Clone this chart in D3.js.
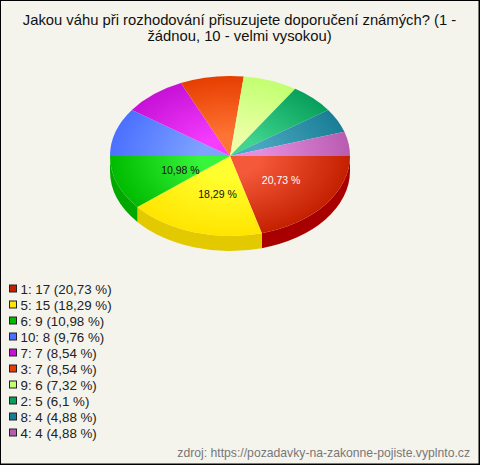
<!DOCTYPE html>
<html><head><meta charset="utf-8">
<script src="https://cdn.jsdelivr.net/npm/d3@7"></script>
<style>html,body{margin:0;padding:0;background:#f5f4ec}svg{display:block}</style>
</head><body><svg id="c" width="480" height="465"></svg>
<script>
const titleLines = ["Jakou váhu při rozhodování přisuzujete doporučení známých? (1 -", "žádnou, 10 - velmi vysokou)"];
const categories = ["1","5","6","10","7","3","9","2","8","4"];
const values = [17,15,9,8,7,7,6,5,4,4];
const percents = ["20,73","18,29","10,98","9,76","8,54","8,54","7,32","6,1","4,88","4,88"];
const baseColors = ["#c42000","#ffe500","#00bb00","#4a70ff","#c611d6","#e63e00","#c2ff70","#079f5b","#1a7d96","#b85cb0"];
const lightColors = ["#f4593a","#ffff30","#36f53a","#7fa2ff","#f53cff","#ff7434","#ecffa8","#3fd58f","#4aa8c0","#e58ee0"];
const sideColors = ["#a80000","#e2c900","#00a800"];
const footer = "zdroj: https://pozadavky-na-zakonne-pojiste.vyplnto.cz";

const W=480,H=465,cx=230,cy=156,R=120,ratio=2/3,depth=15;
const svg=d3.select("#c");
const font="'Liberation Sans',Arial,sans-serif";
svg.append("rect").attr("x",.5).attr("y",.5).attr("width",W-1.5).attr("height",H-1.5).attr("fill","#f5f4ec").attr("stroke","#000");
svg.append("line").attr("x1",W-.5).attr("x2",W-.5).attr("y1",0).attr("y2",H).attr("stroke","#000");
svg.append("line").attr("x1",0).attr("x2",W).attr("y1",H-.5).attr("y2",H-.5).attr("stroke","#000");

svg.append("g").selectAll("text").data(titleLines).join("text")
  .attr("x",W/2-.5).attr("y",(d,i)=>25+i*15.5).attr("text-anchor","middle")
  .attr("font-family",font).attr("font-size",14.8).attr("fill","#111").text(d=>d);

const pie=d3.pie().sort(null).startAngle(Math.PI/2).endAngle(Math.PI*2.5)(values);
const arc=d3.arc().innerRadius(0).outerRadius(R);
const defs=svg.append("defs");
pie.forEach((s,i)=>{
  const g=defs.append("radialGradient").attr("id","g"+i).attr("gradientUnits","userSpaceOnUse")
    .attr("cx",0).attr("cy",0).attr("r",R);
  g.append("stop").attr("offset",0).attr("stop-color",lightColors[i]);
  g.append("stop").attr("offset",.25).attr("stop-color",lightColors[i]);
  g.append("stop").attr("offset",1).attr("stop-color",baseColors[i]);
});
const root=svg.append("g").attr("transform",`translate(${cx},${cy})`);
const side=root.append("g").attr("transform",`scale(1,${ratio})`);
pie.forEach((s,i)=>{
  const a0=s.startAngle-Math.PI/2, a1=Math.min(s.endAngle-Math.PI/2,Math.PI);
  if(a0>=Math.PI) return;
  const d=depth/ratio, p=d3.path();
  p.arc(0,0,R,a0,a1);
  p.lineTo(R*Math.cos(a1),R*Math.sin(a1)+d);
  p.arc(0,d,R,a1,a0,true);
  p.closePath();
  side.append("path").attr("d",p.toString()).attr("fill",sideColors[i]);
});
const face=root.append("g").attr("transform",`scale(1,${ratio})`);
face.selectAll("path").data(pie).join("path").attr("d",arc).attr("fill",(d,i)=>`url(#g${i})`);

root.selectAll("text.l").data(pie.slice(0,3)).join("text").attr("class","l")
  .attr("x",d=>5+58*Math.cos((d.startAngle+d.endAngle)/2-Math.PI/2))
  .attr("y",d=>40*Math.sin((d.startAngle+d.endAngle)/2-Math.PI/2)+4)
  .attr("text-anchor","middle").attr("font-family",font).attr("font-size",10.5)
  .attr("fill",(d,i)=>i==0?"#fff":"#111").text((d,i)=>percents[i]+" %");

const leg=svg.append("g").selectAll("g").data(categories).join("g").attr("transform",(d,i)=>`translate(0,${288.5+i*16})`);
leg.append("rect").attr("x",9.5).attr("y",-3.5).attr("width",7).attr("height",7).attr("stroke","#222")
  .attr("fill",(d,i)=>baseColors[i]);
leg.append("text").attr("x",20.5).attr("y",5.5).attr("font-family",font).attr("font-size",13.33).attr("fill","#222")
  .text((d,i)=>`${d}: ${values[i]} (${percents[i]} %)`);
svg.append("text").attr("x",470).attr("y",457).attr("text-anchor","end").attr("font-family",font)
  .attr("font-size",12.2).attr("fill","#777").text(footer);
</script></body></html>
